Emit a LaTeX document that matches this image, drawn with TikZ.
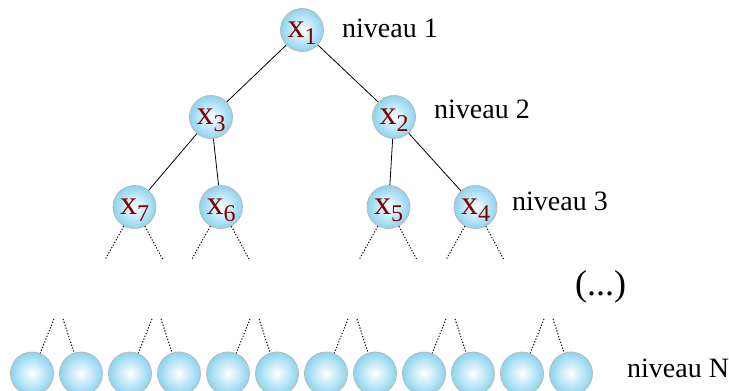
\documentclass[tikz,border=0pt]{standalone}
\usepackage{fontspec}
\setmainfont{Liberation Serif}
\definecolor{bleuclair}{RGB}{140,212,240}
\definecolor{rougefonce}{RGB}{128,0,0}
\newcommand{\xlab}[1]{{\fontsize{34}{34}\selectfont x}\raisebox{-7pt}{\fontsize{24}{24}\selectfont #1}}
\begin{document}
\begin{tikzpicture}[x=1pt,y=-1pt,
    bulle/.style={circle,minimum size=43pt,inner sep=0pt,text depth=0pt,
      draw=gray!55,line width=0.8pt,shading=radial,inner color=white,
      outer color=bleuclair,text=rougefonce},
    niveau/.style={anchor=base west,inner sep=0pt,font=\fontsize{28}{28}\selectfont},
    pointille/.style={dash pattern=on 1.2pt off 1.8pt,line width=1pt}]
      \useasboundingbox (0,0) rectangle (729,391);
      \draw
        (302,30) node[bulle] (1){\xlab{1}}
        (211,117) node[bulle] (3){\xlab{3}}
        (394,117) node[bulle] (2){\xlab{2}}
        (134.5,207) node[bulle] (7){\xlab{7}}
        (221,207) node[bulle] (6){\xlab{6}}
        (388.5,207) node[bulle] (5){\xlab{5}}
        (475.5,207) node[bulle] (4){\xlab{4}};
      \draw
        (32,373.5) node[bulle] (b1){}
        (81,373.5) node[bulle] (b2){}
        (130,373.5) node[bulle] (b3){}
        (179,373.5) node[bulle] (b4){}
        (228,373.5) node[bulle] (b5){}
        (277,373.5) node[bulle] (b6){}
        (326,373.5) node[bulle] (b7){}
        (375,373.5) node[bulle] (b8){}
        (424,373.5) node[bulle] (b9){}
        (473,373.5) node[bulle] (b10){}
        (522,373.5) node[bulle] (b11){}
        (571,373.5) node[bulle] (b12){};
      \draw
        (342,37) node[niveau] (n1){niveau 1}
        (434,118) node[niveau] (n2){niveau 2}
        (512,210) node[niveau] (n3){niveau 3}
        (575,295) node[anchor=base west,inner sep=0pt,font=\fontsize{36}{36}\selectfont] (etc){(...)}
        (627,377) node[niveau] (nN){niveau N};
      % bouts libres des pointilles
      \coordinate (7g) at (105.5,259);
      \coordinate (7d) at (162.5,259);
      \coordinate (6g) at (192,259);
      \coordinate (6d) at (249,259);
      \coordinate (5g) at (359.5,259);
      \coordinate (5d) at (416.5,259);
      \coordinate (4g) at (446.5,259);
      \coordinate (4d) at (503.5,259);
      \coordinate (p1g) at (54,319);
      \coordinate (p1d) at (63,319);
      \coordinate (p2g) at (152,319);
      \coordinate (p2d) at (161,319);
      \coordinate (p3g) at (250,319);
      \coordinate (p3d) at (259,319);
      \coordinate (p4g) at (348,319);
      \coordinate (p4d) at (357,319);
      \coordinate (p5g) at (446,319);
      \coordinate (p5d) at (455,319);
      \coordinate (p6g) at (544,319);
      \coordinate (p6d) at (553,319);
      \begin{scope}[-,line width=0.8pt]
        \draw (1) to (3);
        \draw (1) to (2);
        \draw (3) to (7);
        \draw (3) to (6);
        \draw (2) to (5);
        \draw (2) to (4);
      \end{scope}
      \begin{scope}[pointille]
        \draw (7) to (7g);
        \draw (7) to (7d);
        \draw (6) to (6g);
        \draw (6) to (6d);
        \draw (5) to (5g);
        \draw (5) to (5d);
        \draw (4) to (4g);
        \draw (4) to (4d);
        \draw (p1g) to (b1);
        \draw (p1d) to (b2);
        \draw (p2g) to (b3);
        \draw (p2d) to (b4);
        \draw (p3g) to (b5);
        \draw (p3d) to (b6);
        \draw (p4g) to (b7);
        \draw (p4d) to (b8);
        \draw (p5g) to (b9);
        \draw (p5d) to (b10);
        \draw (p6g) to (b11);
        \draw (p6d) to (b12);
      \end{scope}
    \end{tikzpicture}
\end{document}
